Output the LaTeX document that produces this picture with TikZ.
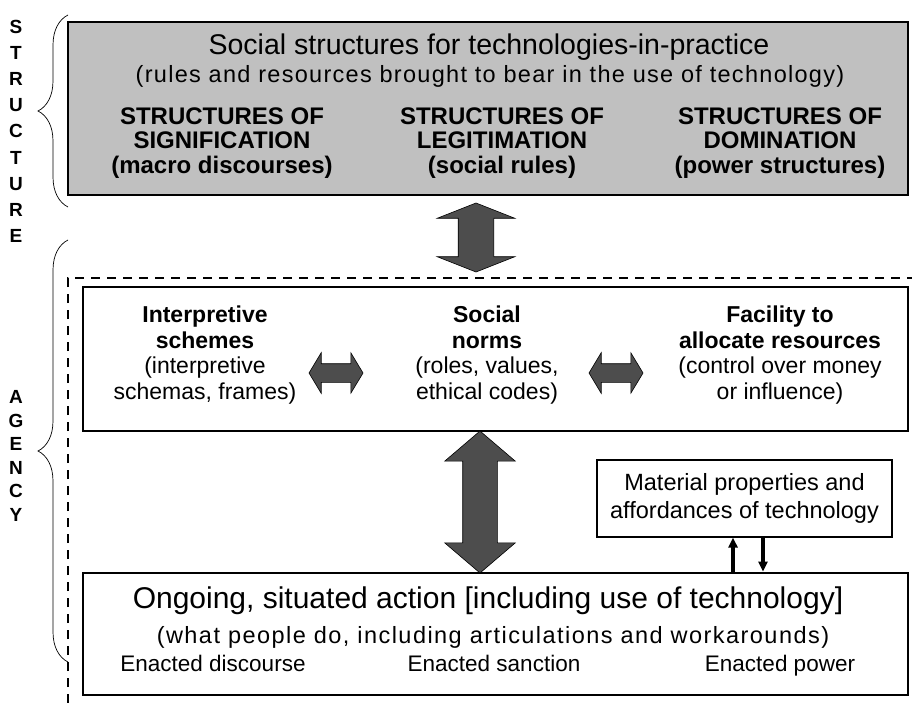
\documentclass[tikz,border=0pt]{standalone}
\usepackage{fontspec}
\setmainfont{Liberation Sans}
\usetikzlibrary{shapes, shapes.arrows, arrows.meta, positioning, calc, decorations.pathreplacing}
\definecolor{boxgray}{HTML}{C0C0C0}
\definecolor{arrowgray}{HTML}{4D4D4D}

\begin{document}
\begin{tikzpicture}[x=1pt, y=-1pt,
                box/.style={rectangle, draw, line width=2.8pt, inner sep=0pt},
                txt/.style={align=center, inner sep=0pt, font=\fontsize{23}{25.7}\selectfont},
                head/.style={align=center, inner sep=0pt, font=\bfseries\fontsize{24}{24.5}\selectfont},
                spread/.style={inner sep=0pt, font=\fontsize{23.5}{24}\selectfont\addfontfeature{LetterSpace=5.5}},
                letter/.style={inner sep=0pt, font=\bfseries\fontsize{19}{20}\selectfont},
                blockarrow/.style={double arrow, fill=arrowgray, draw=black, line width=0.6pt, inner xsep=0pt},
                techarrow/.style={-{Triangle[length=10pt, width=9pt]}, line width=3.2pt},
                sidebrace/.style={decorate, decoration={brace, amplitude=30pt}, line width=0.7pt}]
                \useasboundingbox (0,0) rectangle (912,703);

                % structure
                \node[box, fill=boxgray, minimum width=840pt, minimum height=173pt] (struct) at (488,108.5) {};
                \node[txt, font=\fontsize{28.5}{30}\selectfont] (title) at (489,47) {Social structures for technologies-in-practice};
                \node[spread] (sub) at (490,76) {(rules and resources brought to bear in the use of technology)};
                \node[head] (sig) at (222,143) {STRUCTURES OF\\SIGNIFICATION\\(macro discourses)};
                \node[head] (leg) at (502,143) {STRUCTURES OF\\LEGITIMATION\\(social rules)};
                \node[head] (dom) at (780,143) {STRUCTURES OF\\DOMINATION\\(power structures)};

                % agency
                \draw[line width=1.9pt, dash pattern=on 9pt off 7pt] (68,703) |- (912,278);
                \node[box, fill=white, minimum width=825pt, minimum height=144pt] (agency) at (495.5,359) {};
                \node[txt] (interp) at (205,355) {\textbf{Interpretive}\\\textbf{schemes}\\(interpretive\\schemas, frames)};
                \node[txt] (norms) at (487,355) {\textbf{Social}\\\textbf{norms}\\(roles, values,\\ethical codes)};
                \node[txt] (facil) at (780,355) {\textbf{Facility to}\\\textbf{allocate resources}\\(control over money\\or influence)};
                \node[blockarrow, minimum height=54pt, minimum width=40pt, inner ysep=9pt, double arrow head extend=11pt,
                      double arrow tip angle=118] (ar1) at (336,373) {};
                \node[blockarrow, minimum height=54pt, minimum width=40pt, inner ysep=9pt, double arrow head extend=11pt,
                      double arrow tip angle=118] (ar2) at (616,373) {};

                \node[box, fill=white, minimum width=825pt, minimum height=122pt] (action) at (495.5,634) {};
                \node[txt, font=\fontsize{30}{32}\selectfont] (ongoing) at (488,601) {Ongoing, situated action [including use of technology]};
                \node[spread, font=\fontsize{23.5}{24}\selectfont\addfontfeature{LetterSpace=6.2}] (what) at (493,637) {(what people do, including articulations and workarounds)};
                \node[txt, anchor=base, font=\fontsize{22.5}{24}\selectfont] (disc) at (213,671) {Enacted discourse};
                \node[txt, anchor=base, font=\fontsize{22.5}{24}\selectfont] (sanc) at (494,671) {Enacted sanction};
                \node[txt, anchor=base, font=\fontsize{22.5}{24}\selectfont] (pow) at (780,671) {Enacted power};

                \node[box, line width=1.1pt, fill=white, minimum width=295pt, minimum height=77pt, align=center,
                      font=\fontsize{23.5}{28}\selectfont] (mat) at (744.5,498.5) {Material properties and\\affordances of technology};

                % arrows between levels
                \node[blockarrow, rotate=90, minimum height=69pt, minimum width=77pt, inner ysep=17.5pt, double arrow head extend=21pt,
                      double arrow tip angle=137] (arstr) at (476,237.5) {};
                \node[blockarrow, rotate=90, minimum height=142pt, minimum width=70pt, inner ysep=17pt, double arrow head extend=18pt,
                      double arrow tip angle=99] (arrow) at (480,502) {};

                \coordinate (upx) at (733,0);
                \coordinate (downx) at (763,0);
                \draw[techarrow] (upx |- action.north) -- (upx |- mat.south);
                \draw[techarrow] (downx |- mat.south) -- (downx |- action.north);

                % side labels
                \draw[sidebrace] (68,207) -- (68,15);
                \draw[sidebrace] (68,662) -- (68,240);
                \foreach \ch [count=\i from 0] in {S,T,R,U,C,T,U,R,E}
                    \node[letter] (s\i) at (16,{27+26.1*\i}) {\ch};
                \foreach \ch [count=\i from 0] in {A,G,E,N,C,Y}
                    \node[letter] (a\i) at (16,{397+23.5*\i}) {\ch};
            \end{tikzpicture}
\end{document}
